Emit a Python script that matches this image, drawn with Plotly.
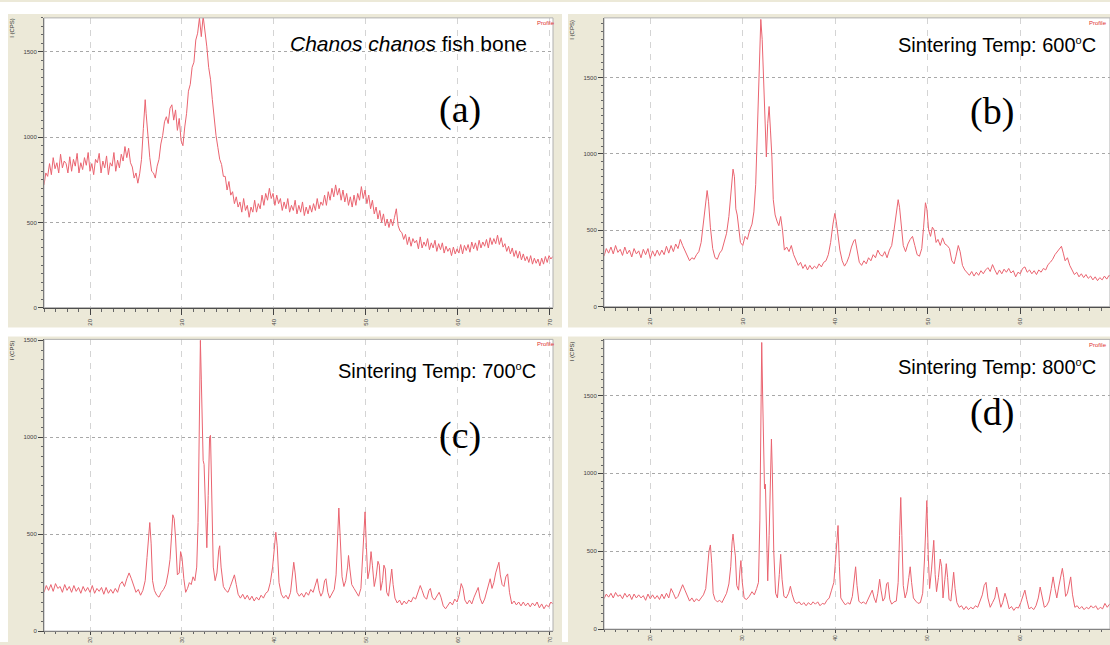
import plotly.graph_objects as go

# ---------------- data: (2-theta, intensity in CPS) ----------------
scan_a = [
    (15.0, 720), (15.2, 790), (15.4, 770), (15.6, 845), (15.8, 780), (16.0, 880), (16.2, 815), (16.4, 850),
    (16.6, 790), (16.8, 900), (17.0, 820), (17.2, 860), (17.4, 845), (17.6, 790), (17.8, 885), (18.0, 800),
    (18.2, 870), (18.4, 830), (18.6, 905), (18.8, 790), (19.0, 850), (19.2, 810), (19.4, 880), (19.6, 835),
    (19.8, 910), (20.0, 800), (20.2, 845), (20.4, 780), (20.6, 870), (20.8, 850), (21.0, 905), (21.2, 790),
    (21.4, 860), (21.6, 820), (21.8, 890), (22.0, 780), (22.2, 850), (22.4, 830), (22.6, 910), (22.8, 800),
    (23.0, 865), (23.2, 820), (23.4, 900), (23.6, 860), (23.8, 945), (24.0, 880), (24.2, 935), (24.4, 850),
    (24.6, 825), (24.8, 760), (25.0, 790), (25.2, 730), (25.4, 785), (25.6, 870), (25.8, 1050), (26.0, 1220),
    (26.1, 1140), (26.3, 980), (26.5, 880), (26.7, 800), (26.9, 790), (27.1, 760), (27.3, 830), (27.5, 870),
    (27.7, 960), (27.9, 1010), (28.1, 1090), (28.3, 1120), (28.5, 1080), (28.7, 1170), (28.9, 1190), (29.1, 1100),
    (29.3, 1160), (29.5, 1040), (29.7, 1110), (29.9, 980), (30.1, 950), (30.3, 1060), (30.5, 1140), (30.7, 1270),
    (30.9, 1310), (31.1, 1410), (31.3, 1440), (31.5, 1570), (31.7, 1610), (31.9, 1700), (32.1, 1590), (32.3, 1710),
    (32.5, 1630), (32.7, 1530), (32.9, 1410), (33.1, 1340), (33.3, 1220), (33.5, 1110), (33.7, 1010), (33.9, 940),
    (34.1, 870), (34.3, 840), (34.5, 770), (34.7, 770), (34.9, 690), (35.1, 740), (35.3, 660), (35.5, 680),
    (35.7, 610), (35.9, 650), (36.1, 590), (36.3, 620), (36.5, 560), (36.7, 640), (36.9, 570), (37.1, 600),
    (37.3, 530), (37.5, 590), (37.7, 560), (37.9, 630), (38.1, 560), (38.3, 610), (38.5, 580), (38.7, 660),
    (38.9, 600), (39.1, 670), (39.3, 630), (39.5, 700), (39.7, 640), (39.9, 670), (40.1, 600), (40.3, 660),
    (40.5, 610), (40.7, 640), (40.9, 570), (41.1, 620), (41.3, 580), (41.5, 640), (41.7, 560), (41.9, 600),
    (42.1, 570), (42.3, 630), (42.5, 550), (42.7, 600), (42.9, 560), (43.1, 620), (43.3, 540), (43.5, 590),
    (43.7, 550), (43.9, 600), (44.1, 560), (44.3, 610), (44.5, 570), (44.7, 640), (44.9, 580), (45.1, 620),
    (45.3, 600), (45.5, 660), (45.7, 600), (45.9, 680), (46.1, 630), (46.3, 700), (46.5, 650), (46.7, 720),
    (46.9, 660), (47.1, 700), (47.3, 630), (47.5, 690), (47.7, 620), (47.9, 670), (48.1, 600), (48.3, 650),
    (48.5, 590), (48.7, 660), (48.9, 600), (49.1, 670), (49.3, 630), (49.5, 710), (49.7, 640), (49.9, 690),
    (50.1, 610), (50.3, 660), (50.5, 580), (50.7, 630), (50.9, 550), (51.1, 590), (51.3, 520), (51.5, 570),
    (51.7, 500), (51.9, 550), (52.1, 480), (52.3, 520), (52.5, 470), (52.7, 520), (52.9, 480), (53.1, 530),
    (53.3, 580), (53.5, 480), (53.7, 450), (53.9, 440), (54.1, 400), (54.3, 430), (54.5, 370), (54.7, 415),
    (54.9, 360), (55.1, 405), (55.3, 380), (55.5, 395), (55.7, 345), (55.9, 415), (56.1, 350), (56.3, 385),
    (56.5, 360), (56.7, 405), (56.9, 340), (57.1, 380), (57.3, 350), (57.5, 395), (57.7, 330), (57.9, 375),
    (58.1, 340), (58.3, 380), (58.5, 320), (58.7, 360), (58.9, 330), (59.1, 350), (59.3, 305), (59.5, 355),
    (59.7, 315), (59.9, 345), (60.1, 320), (60.3, 370), (60.5, 315), (60.7, 365), (60.9, 335), (61.1, 370),
    (61.3, 325), (61.5, 385), (61.7, 345), (61.9, 380), (62.1, 335), (62.3, 395), (62.5, 350), (62.7, 385),
    (62.9, 360), (63.1, 400), (63.3, 350), (63.5, 410), (63.7, 370), (63.9, 405), (64.1, 375), (64.3, 425),
    (64.5, 370), (64.7, 410), (64.9, 355), (65.1, 375), (65.3, 330), (65.5, 360), (65.7, 315), (65.9, 350),
    (66.1, 300), (66.3, 335), (66.5, 290), (66.7, 330), (66.9, 280), (67.1, 315), (67.3, 275), (67.5, 300),
    (67.7, 265), (67.9, 305), (68.1, 255), (68.3, 290), (68.5, 260), (68.7, 285), (68.9, 245), (69.1, 290),
    (69.3, 255), (69.5, 300), (69.7, 265), (69.9, 305), (70.1, 285), (70.3, 300),
]

scan_b = [
    (15.0, 330), (15.25, 380), (15.5, 350), (15.75, 390), (16.0, 345), (16.25, 400), (16.5, 355), (16.75, 375),
    (17.0, 335), (17.25, 390), (17.5, 345), (17.75, 370), (18.0, 325), (18.25, 380), (18.5, 345), (18.75, 365),
    (19.0, 320), (19.25, 375), (19.5, 340), (19.75, 380), (20.0, 315), (20.25, 365), (20.5, 330), (20.75, 370),
    (21.0, 335), (21.25, 370), (21.5, 340), (21.75, 395), (22.0, 350), (22.25, 400), (22.5, 360), (22.75, 410),
    (23.0, 380), (23.25, 440), (23.5, 400), (23.75, 370), (24.0, 330), (24.25, 300), (24.5, 320), (24.75, 310),
    (25.0, 340), (25.25, 360), (25.5, 420), (25.75, 560), (26.0, 700), (26.15, 760), (26.3, 690), (26.5, 520),
    (26.75, 380), (27.0, 320), (27.25, 310), (27.5, 350), (27.75, 370), (28.0, 420), (28.25, 480), (28.5, 590),
    (28.75, 760), (28.95, 900), (29.1, 850), (29.25, 640), (29.4, 600), (29.55, 500), (29.75, 420), (30.0, 400),
    (30.25, 460), (30.5, 440), (30.75, 500), (31.0, 540), (31.2, 620), (31.4, 800), (31.6, 1200), (31.8, 1650),
    (31.95, 1880), (32.1, 1750), (32.25, 1500), (32.4, 1150), (32.55, 980), (32.7, 1200), (32.85, 1310), (33.0, 1150),
    (33.15, 980), (33.3, 700), (33.5, 600), (33.7, 560), (33.9, 530), (34.1, 590), (34.3, 500), (34.5, 370),
    (34.75, 390), (35.0, 360), (35.25, 400), (35.5, 340), (35.75, 300), (36.0, 270), (36.25, 290), (36.5, 250),
    (36.75, 275), (37.0, 240), (37.25, 270), (37.5, 245), (37.75, 265), (38.0, 250), (38.25, 280), (38.5, 260),
    (38.75, 290), (39.0, 300), (39.25, 340), (39.5, 420), (39.75, 540), (39.95, 610), (40.1, 560), (40.3, 450),
    (40.5, 370), (40.75, 300), (41.0, 265), (41.25, 290), (41.5, 330), (41.75, 390), (42.0, 430), (42.15, 440),
    (42.4, 360), (42.6, 290), (42.85, 270), (43.1, 300), (43.35, 280), (43.6, 320), (43.85, 300), (44.1, 340),
    (44.35, 320), (44.6, 370), (44.85, 340), (45.1, 330), (45.35, 360), (45.6, 320), (45.85, 370), (46.1, 400),
    (46.35, 500), (46.6, 620), (46.8, 700), (46.95, 650), (47.15, 500), (47.35, 400), (47.6, 360), (47.85, 410),
    (48.1, 440), (48.35, 460), (48.6, 400), (48.85, 340), (49.1, 330), (49.35, 380), (49.55, 520), (49.75, 680),
    (49.9, 640), (50.1, 500), (50.3, 460), (50.5, 520), (50.7, 500), (50.9, 420), (51.1, 440), (51.35, 400),
    (51.6, 450), (51.85, 410), (52.1, 400), (52.35, 380), (52.6, 300), (52.85, 280), (53.05, 330), (53.3, 400),
    (53.5, 360), (53.75, 270), (54.0, 240), (54.25, 220), (54.5, 205), (54.75, 230), (55.0, 200), (55.25, 225),
    (55.5, 205), (55.75, 235), (56.0, 215), (56.25, 240), (56.5, 255), (56.75, 230), (57.0, 275), (57.25, 240),
    (57.5, 210), (57.75, 240), (58.0, 215), (58.25, 245), (58.5, 225), (58.75, 250), (59.0, 220), (59.25, 235),
    (59.5, 195), (59.75, 225), (60.0, 215), (60.25, 250), (60.5, 260), (60.75, 225), (61.0, 240), (61.25, 215),
    (61.5, 235), (61.75, 210), (62.0, 240), (62.25, 225), (62.5, 250), (62.75, 240), (63.0, 275), (63.25, 290),
    (63.5, 310), (63.75, 340), (64.0, 360), (64.25, 385), (64.45, 395), (64.65, 350), (64.85, 300), (65.1, 320),
    (65.35, 270), (65.6, 240), (65.85, 210), (66.1, 225), (66.35, 195), (66.6, 215), (66.85, 190), (67.1, 210),
    (67.35, 185), (67.6, 200), (67.85, 175), (68.1, 195), (68.35, 170), (68.6, 190), (68.85, 175), (69.1, 200),
    (69.35, 180), (69.6, 205), (69.85, 190),
]

scan_c = [
    (15.0, 200), (15.25, 235), (15.5, 210), (15.75, 240), (16.0, 205), (16.25, 245), (16.5, 220), (16.75, 230),
    (17.0, 200), (17.25, 240), (17.5, 210), (17.75, 230), (18.0, 200), (18.25, 235), (18.5, 205), (18.75, 225),
    (19.0, 195), (19.25, 230), (19.5, 205), (19.75, 225), (20.0, 200), (20.25, 235), (20.5, 195), (20.75, 220),
    (21.0, 205), (21.25, 225), (21.5, 190), (21.75, 225), (22.0, 195), (22.25, 215), (22.5, 195), (22.75, 220),
    (23.0, 200), (23.25, 240), (23.5, 255), (23.75, 230), (24.0, 270), (24.25, 300), (24.5, 270), (24.75, 230),
    (25.0, 200), (25.25, 215), (25.5, 185), (25.75, 210), (26.0, 260), (26.2, 380), (26.35, 500), (26.5, 560),
    (26.65, 450), (26.8, 260), (27.0, 210), (27.25, 185), (27.5, 175), (27.75, 200), (28.0, 215), (28.25, 240),
    (28.5, 300), (28.7, 370), (28.85, 480), (29.0, 600), (29.15, 580), (29.3, 480), (29.5, 290), (29.7, 300),
    (29.85, 410), (30.0, 380), (30.2, 270), (30.4, 200), (30.6, 220), (30.8, 250), (31.0, 240), (31.2, 280),
    (31.4, 260), (31.6, 330), (31.75, 560), (31.9, 1100), (32.0, 1500), (32.1, 1300), (32.2, 950), (32.3, 880),
    (32.4, 860), (32.55, 640), (32.7, 430), (32.85, 700), (33.0, 1000), (33.1, 1010), (33.25, 700), (33.4, 330),
    (33.6, 260), (33.8, 300), (34.0, 420), (34.1, 440), (34.25, 330), (34.5, 230), (34.75, 210), (35.0, 200),
    (35.25, 230), (35.5, 260), (35.7, 290), (35.9, 240), (36.1, 190), (36.35, 170), (36.6, 190), (36.85, 165),
    (37.1, 185), (37.35, 160), (37.6, 180), (37.85, 155), (38.1, 175), (38.35, 160), (38.6, 185), (38.85, 170),
    (39.1, 195), (39.35, 205), (39.6, 250), (39.85, 330), (40.05, 430), (40.2, 510), (40.35, 440), (40.55, 250),
    (40.8, 190), (41.05, 170), (41.3, 185), (41.55, 165), (41.8, 200), (42.0, 280), (42.15, 355), (42.3, 300),
    (42.5, 200), (42.75, 180), (43.0, 195), (43.25, 175), (43.5, 200), (43.75, 185), (44.0, 215), (44.25, 200),
    (44.5, 240), (44.7, 270), (44.9, 210), (45.1, 180), (45.3, 200), (45.5, 260), (45.65, 270), (45.85, 200),
    (46.05, 170), (46.3, 190), (46.55, 215), (46.75, 290), (46.95, 520), (47.05, 635), (47.2, 480), (47.4, 280),
    (47.6, 230), (47.8, 260), (48.0, 330), (48.1, 390), (48.25, 320), (48.45, 240), (48.7, 220), (48.95, 200),
    (49.2, 180), (49.45, 220), (49.65, 380), (49.8, 560), (49.9, 615), (50.05, 430), (50.2, 270), (50.4, 320),
    (50.55, 410), (50.7, 340), (50.9, 230), (51.1, 280), (51.3, 360), (51.45, 340), (51.6, 210), (51.8, 260),
    (51.95, 340), (52.1, 320), (52.25, 200), (52.45, 180), (52.65, 260), (52.8, 320), (52.95, 240), (53.15, 170),
    (53.4, 145), (53.65, 160), (53.9, 135), (54.15, 155), (54.4, 140), (54.65, 160), (54.9, 150), (55.15, 175),
    (55.4, 165), (55.65, 200), (55.9, 235), (56.1, 210), (56.35, 175), (56.6, 165), (56.85, 210), (57.0, 220),
    (57.2, 175), (57.45, 160), (57.7, 180), (57.95, 200), (58.15, 175), (58.4, 130), (58.65, 115), (58.9, 135),
    (59.15, 150), (59.4, 135), (59.65, 165), (59.9, 150), (60.15, 190), (60.35, 245), (60.55, 220), (60.75, 160),
    (61.0, 140), (61.25, 160), (61.5, 140), (61.75, 175), (62.0, 200), (62.2, 225), (62.4, 170), (62.65, 140),
    (62.9, 165), (63.1, 200), (63.3, 240), (63.5, 270), (63.7, 220), (63.9, 250), (64.1, 300), (64.3, 340),
    (64.45, 355), (64.6, 290), (64.8, 240), (65.0, 230), (65.2, 280), (65.4, 295), (65.6, 200), (65.85, 140),
    (66.1, 155), (66.35, 135), (66.6, 150), (66.85, 130), (67.1, 150), (67.35, 130), (67.6, 145), (67.85, 125),
    (68.1, 145), (68.35, 130), (68.6, 150), (68.85, 120), (69.1, 140), (69.35, 115), (69.6, 135), (69.85, 125),
    (70.1, 150), (70.3, 140),
]

scan_d = [
    (15.0, 195), (15.25, 225), (15.5, 205), (15.75, 230), (16.0, 200), (16.25, 235), (16.5, 210), (16.75, 220),
    (17.0, 195), (17.25, 230), (17.5, 205), (17.75, 225), (18.0, 190), (18.25, 225), (18.5, 200), (18.75, 220),
    (19.0, 200), (19.25, 215), (19.5, 185), (19.75, 225), (20.0, 195), (20.25, 220), (20.5, 195), (20.75, 215),
    (21.0, 190), (21.25, 225), (21.5, 195), (21.75, 230), (22.0, 200), (22.25, 260), (22.5, 230), (22.75, 195),
    (23.0, 210), (23.25, 250), (23.5, 285), (23.75, 250), (24.0, 210), (24.25, 180), (24.5, 200), (24.75, 175),
    (25.0, 195), (25.25, 180), (25.5, 200), (25.75, 220), (26.0, 260), (26.2, 380), (26.35, 500), (26.5, 540),
    (26.65, 420), (26.8, 230), (27.0, 190), (27.25, 175), (27.5, 185), (27.75, 170), (28.0, 200), (28.25, 230),
    (28.5, 290), (28.7, 400), (28.85, 560), (28.95, 610), (29.1, 520), (29.2, 470), (29.35, 280), (29.55, 250),
    (29.7, 380), (29.8, 440), (29.95, 300), (30.15, 200), (30.4, 190), (30.7, 210), (31.0, 240), (31.25, 220),
    (31.5, 260), (31.7, 300), (31.85, 700), (31.95, 1400), (32.05, 1840), (32.15, 1500), (32.25, 1000), (32.35, 900),
    (32.45, 930), (32.6, 600), (32.7, 310), (32.85, 600), (33.0, 1100), (33.1, 1220), (33.2, 1000), (33.35, 500),
    (33.55, 230), (33.75, 200), (33.95, 350), (34.1, 480), (34.25, 320), (34.45, 210), (34.7, 200), (34.95, 230),
    (35.15, 275), (35.35, 220), (35.6, 175), (35.85, 165), (36.1, 175), (36.35, 155), (36.6, 170), (36.85, 150),
    (37.1, 170), (37.35, 155), (37.6, 175), (37.85, 160), (38.1, 175), (38.35, 150), (38.6, 165), (38.85, 160),
    (39.1, 185), (39.35, 200), (39.6, 250), (39.85, 300), (40.0, 420), (40.15, 560), (40.3, 665), (40.45, 400),
    (40.6, 200), (40.85, 175), (41.1, 155), (41.35, 170), (41.6, 160), (41.85, 210), (42.05, 330), (42.2, 400),
    (42.35, 280), (42.55, 180), (42.8, 165), (43.05, 175), (43.3, 160), (43.55, 190), (43.8, 220), (44.0, 250),
    (44.2, 200), (44.4, 170), (44.6, 230), (44.8, 320), (44.95, 250), (45.15, 180), (45.35, 200), (45.55, 290),
    (45.7, 300), (45.9, 190), (46.1, 160), (46.35, 175), (46.6, 180), (46.8, 300), (46.95, 600), (47.08, 845),
    (47.2, 600), (47.35, 280), (47.55, 200), (47.75, 240), (47.95, 330), (48.1, 400), (48.25, 300), (48.45, 200),
    (48.7, 180), (48.95, 165), (49.2, 170), (49.45, 230), (49.65, 450), (49.8, 700), (49.9, 825), (50.05, 480),
    (50.2, 260), (50.4, 380), (50.55, 540), (50.65, 570), (50.8, 350), (50.95, 240), (51.15, 330), (51.35, 450),
    (51.5, 400), (51.65, 200), (51.85, 320), (52.0, 420), (52.15, 330), (52.3, 190), (52.5, 180), (52.65, 280),
    (52.8, 365), (52.95, 260), (53.15, 170), (53.4, 140), (53.65, 150), (53.9, 125), (54.15, 145), (54.4, 125),
    (54.65, 140), (54.9, 130), (55.15, 150), (55.4, 140), (55.65, 175), (55.9, 220), (56.1, 280), (56.3, 300),
    (56.5, 200), (56.75, 140), (57.0, 170), (57.25, 200), (57.45, 270), (57.65, 200), (57.9, 140), (58.1, 170),
    (58.35, 230), (58.55, 190), (58.8, 130), (59.05, 145), (59.3, 120), (59.55, 140), (59.8, 135), (60.05, 170),
    (60.3, 220), (60.5, 250), (60.7, 190), (60.95, 130), (61.2, 140), (61.45, 125), (61.7, 150), (61.95, 200),
    (62.15, 270), (62.35, 210), (62.6, 140), (62.85, 150), (63.1, 180), (63.35, 260), (63.55, 335), (63.75, 260),
    (63.95, 200), (64.15, 270), (64.35, 330), (64.55, 390), (64.7, 330), (64.9, 210), (65.1, 230), (65.3, 300),
    (65.45, 335), (65.65, 220), (65.9, 140), (66.15, 150), (66.4, 130), (66.65, 145), (66.9, 125), (67.15, 140),
    (67.4, 130), (67.65, 150), (67.9, 135), (68.15, 150), (68.4, 125), (68.65, 140), (68.9, 130), (69.15, 165),
    (69.4, 140), (69.65, 160), (69.85, 170),
]

x_tick_vals = [20, 30, 40, 50, 60, 70]
y_tick_vals = [0, 500, 1000, 1500]
title_a = "<i>Chanos chanos</i> fish bone"
SUP_O = "<sup><span style='font-size:11px'>o</span></sup>"
titles_temp = ["Sintering Temp: 600" + SUP_O + "C",
               "Sintering Temp: 700" + SUP_O + "C",
               "Sintering Temp: 800" + SUP_O + "C"]
panel_tags = ["(a)", "(b)", "(c)", "(d)"]

# ---------------- layout ----------------
W, H = 1110, 645
BEIGE = "#ECE9D8"
LINE = "rgb(234,100,112)"

def px(x):
    return x / W

def py(y):
    return 1 - y / H

panels = [
    dict(data=scan_a, xr=[15, 70.33], yr=[0, 1700], xd=(44, 553), yd=(16, 308), bottom=False),
    dict(data=scan_b, xr=[15, 69.7], yr=[0, 1890], xd=(604, 1110), yd=(16, 307), bottom=False),
    dict(data=scan_c, xr=[15, 70.33], yr=[0, 1505], xd=(44, 553), yd=(340, 634), bottom=True),
    dict(data=scan_d, xr=[15, 69.7], yr=[0, 1860], xd=(604, 1110), yd=(340, 632), bottom=True),
]

fig = go.Figure()
layout_axes = {}
shapes = []
for i, p in enumerate(panels, start=1):
    xs = [pt[0] for pt in p["data"]]
    ys = [pt[1] for pt in p["data"]]
    xname = "x" if i == 1 else f"x{i}"
    yname = "y" if i == 1 else f"y{i}"
    xt = [v for v in x_tick_vals if p["xr"][0] <= v <= p["xr"][1]]
    yt = [v for v in y_tick_vals if p["yr"][0] <= v <= p["yr"][1]]
    fig.add_trace(go.Scatter(
        x=xs, y=ys, mode="lines", xaxis=xname, yaxis=yname,
        line=dict(color=LINE, width=1), showlegend=False, hoverinfo="skip",
    ))
    layout_axes["xaxis" if i == 1 else f"xaxis{i}"] = dict(
        domain=[px(p["xd"][0]), px(p["xd"][1])], range=p["xr"], anchor=yname,
        showline=True, linecolor="#444", linewidth=1, mirror=False,
        ticks="outside", ticklen=3 if p["bottom"] else 6, tickcolor="#444", tickwidth=1,
        tickvals=xt, ticktext=[str(v) for v in xt],
        tickfont=dict(size=5 if p["bottom"] else 6, color="#444", family="Liberation Sans"),
        tickangle=-90, ticklabelstandoff=0 if p["bottom"] else 2,
        showgrid=True, gridcolor="#d4d4d4", griddash="6px,6px", gridwidth=1,
        minor=dict(dtick=1.25, tick0=15, ticks="outside", ticklen=2 if p["bottom"] else 3,
                   tickcolor="#666", showgrid=False),
        zeroline=False, fixedrange=True,
    )
    layout_axes["yaxis" if i == 1 else f"yaxis{i}"] = dict(
        domain=[py(p["yd"][1]), py(p["yd"][0])], range=p["yr"], anchor=xname,
        showline=True, linecolor="#444", linewidth=1, mirror=False,
        ticks="outside", ticklen=5, tickcolor="#444", tickwidth=1,
        tickvals=yt, ticktext=[str(v) for v in yt],
        tickfont=dict(size=6, color="#444", family="Liberation Sans"),
        showgrid=True, gridcolor="#a8a8a8", griddash="3px,3px", gridwidth=1,
        minor=dict(dtick=50, tick0=0, ticks="outside", ticklen=2, tickcolor="#666", showgrid=False),
        zeroline=False, fixedrange=True,
    )
    # light frame around plot area
    shapes.append(dict(type="rect", xref="paper", yref="paper",
                       x0=px(p["xd"][0]), x1=px(p["xd"][1]), y0=py(p["yd"][1]), y1=py(p["yd"][0]),
                       line=dict(color="#b0b0b0", width=1), fillcolor="rgba(0,0,0,0)", layer="above"))

# white gaps between beige panel frames
for (x0, y0, x1, y1) in [(0, 0, 1110, 12), (0, 0, 8, 645), (562, 0, 568, 645), (0, 328, 1110, 337)]:
    shapes.append(dict(type="rect", xref="paper", yref="paper",
                       x0=px(x0), x1=px(x1), y0=py(y1), y1=py(y0),
                       line=dict(width=0), fillcolor="white", layer="below"))

annotations = []

def add_text(text, x, y, size, family="Liberation Sans", color="black", angle=0):
    annotations.append(dict(text=text, x=px(x), y=py(y), xref="paper", yref="paper",
                            showarrow=False, xanchor="center", yanchor="middle", textangle=angle,
                            font=dict(size=size, family=family, color=color)))

add_text(title_a, 408, 42, 21)
add_text(titles_temp[0], 997, 43, 20)
add_text(titles_temp[1], 437, 372, 20)
add_text(titles_temp[2], 997, 368, 20)
add_text(panel_tags[0], 460, 108, 38, family="Liberation Serif")
add_text(panel_tags[1], 992, 110, 38, family="Liberation Serif")
add_text(panel_tags[2], 460, 437, 38, family="Liberation Serif")
add_text(panel_tags[3], 992, 414, 38, family="Liberation Serif")
for (x, y) in [(12, 26), (572, 28), (12, 351), (572, 352)]:
    add_text("I (CPS)", x, y, 6, color="#333", angle=-90)
for (x, y) in [(546, 21), (1098, 21), (546, 345), (1098, 346)]:
    add_text("Profile", x, y, 6, color="#e03030")

fig.update_layout(
    width=W, height=H, margin=dict(l=0, r=0, t=0, b=0),
    paper_bgcolor=BEIGE, plot_bgcolor="white",
    shapes=shapes, annotations=annotations, showlegend=False,
    **layout_axes,
)

fig.write_html("out.html", config={"displayModeBar": False},
               post_script="document.body.style.margin='0px';document.body.style.overflow='hidden';")
